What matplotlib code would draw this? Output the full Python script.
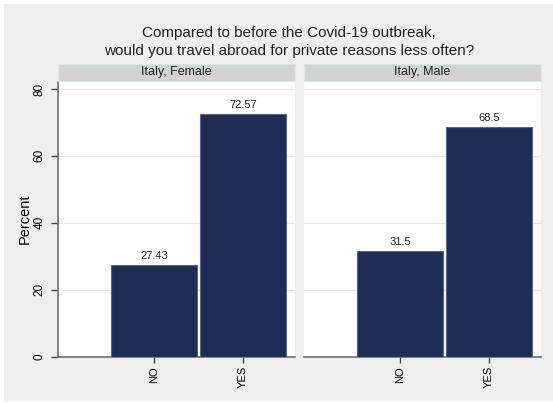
import matplotlib
matplotlib.use("Agg")
import matplotlib.pyplot as plt
from matplotlib.patches import Rectangle

plt.rcParams['font.family'] = ['Liberation Sans', 'DejaVu Sans']

title = "Compared to before the Covid-19 outbreak,\nwould you travel abroad for private reasons less often?"
categories = ['NO', 'YES']
panels = ['Italy, Female', 'Italy, Male']
values = [[27.43, 72.57], [31.5, 68.5]]
value_labels = [['27.43', '72.57'], ['31.5', '68.5']]
yticks = [0, 20, 40, 60, 80]

W, H = 553, 403
fig = plt.figure(figsize=(W / 100, H / 100), dpi=100)
fig.patch.set_facecolor('white')
fig.patches.append(Rectangle((3.5 / W, 0.005), 1, (H - 3.5) / H - 0.005,
                             transform=fig.transFigure, facecolor='#efefef',
                             edgecolor='none', zorder=-10))

bar_color = '#1f2c56'
spine_color = '#6e6e6e'

def px_axes(x0, y0, x1, y1):
    return fig.add_axes([x0 / W, 1 - y1 / H, (x1 - x0) / W, (y1 - y0) / H])

panel_x = [(58, 295), (304, 541)]
for i, (x0, x1) in enumerate(panel_x):
    ax = px_axes(x0, 82, x1, 356.5)
    ax.set_facecolor('white')
    xs = [1, 2]
    ax.bar(xs, values[i], width=0.97, color=bar_color, edgecolor='#5a6584',
           linewidth=0.8, zorder=3)
    for x, v, lab in zip(xs, values[i], value_labels[i]):
        ax.text(x, v + 1.2, lab, ha='center', va='bottom', fontsize=8,
                color='#222222', zorder=4)
    ax.set_xlim(-0.079, 2.584)
    ax.set_ylim(0, 80 + 7 / 3.344)
    ax.set_yticks(yticks)
    ax.set_xticks(xs)
    ax.set_xticklabels(categories, rotation=90, fontsize=8)
    ax.grid(axis='y', color='#e8e8e8', linewidth=0.8, zorder=0)
    for s in ['top', 'right']:
        ax.spines[s].set_visible(False)
    ax.spines['bottom'].set_color(spine_color)
    ax.spines['bottom'].set_linewidth(1.2)
    ax.tick_params(axis='x', length=4, width=1, color='#444444', pad=3)
    if i == 0:
        ax.spines['left'].set_color(spine_color)
        ax.spines['left'].set_linewidth(1.2)
        ax.set_yticklabels([str(t) for t in yticks], rotation=90, va='center',
                           fontsize=8.5)
        ax.tick_params(axis='y', length=5, width=1, color='#444444', pad=4)
        ax.set_ylabel('Percent', fontsize=10.5, labelpad=1)
    else:
        ax.spines['left'].set_visible(False)
        ax.tick_params(axis='y', length=0, labelleft=False)

    sx = px_axes(x0, 63.5, x1, 80.5)
    sx.set_facecolor('#d3d3d3')
    for s in sx.spines.values():
        s.set_color('#dce6ea')
        s.set_linewidth(0.8)
    sx.set_xticks([])
    sx.set_yticks([])
    sx.text(0.5, 0.5, panels[i], ha='center', va='center', fontsize=9,
            transform=sx.transAxes, color='#222222')

fig.text(289 / W, 1 - 42 / H, title, ha='center', va='center', fontsize=11,
         linespacing=1.4, color='#222222')

fig.savefig('out.png', dpi=100)
